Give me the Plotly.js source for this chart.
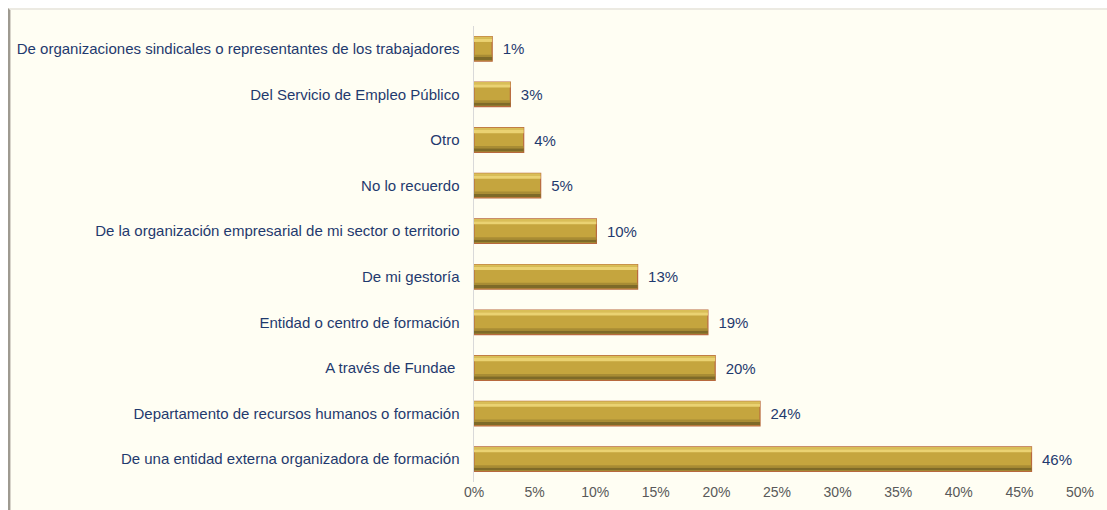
<!DOCTYPE html>
<html><head><meta charset="utf-8">
<script src="https://cdn.plot.ly/plotly-3.0.1.min.js"></script>
<style>
html,body{margin:0;padding:0;background:#fff;width:1107px;height:510px;overflow:hidden}
#frame{position:absolute;left:8px;top:8px;width:1097px;height:502px;background:#FFFEF3;
 border-top:2px solid #ECEAE2;border-left:2px solid #9E9A90;box-shadow:inset 1px 0 0 #D8D4CA;border-right:1px solid #F3F0E6}
#chart{position:absolute;left:0;top:0;width:1107px;height:510px}
</style></head>
<body>
<div id="frame"></div>
<div id="chart"></div>
<script>
const categories = [
  "De una entidad externa organizadora de formación",
  "Departamento de recursos humanos o formación",
  "A través de Fundae ",
  "Entidad o centro de formación",
  "De mi gestoría",
  "De la organización empresarial de mi sector o territorio",
  "No lo recuerdo",
  "Otro",
  "Del Servicio de Empleo Público",
  "De organizaciones sindicales o representantes de los trabajadores"
];
const values = [46.0, 23.6, 19.9, 19.3, 13.5, 10.1, 5.5, 4.1, 3.0, 1.5];
const labels = ["46%","24%","20%","19%","13%","10%","5%","4%","3%","1%"];
const xTickVals = [0,5,10,15,20,25,30,35,40,45,50];
const xTickText = ["0%","5%","10%","15%","20%","25%","30%","35%","40%","45%","50%"];

const W = 0.54;
const main = {
  type:'bar', orientation:'h', y:categories, x:values, width:W,
  marker:{color:'#C5A53E', line:{color:'#B8693E', width:1.2}},
  text:labels.map(t=>'\u2002'+t), textposition:'outside', cliponaxis:false,
  textfont:{family:'Liberation Sans, Arial, sans-serif', size:15, color:'#1F3A6E'},
  hoverinfo:'skip', showlegend:false
};
const hi = {
  type:'bar', orientation:'h', y:categories, x:values, width:0.07, offset:W/2-0.12,
  marker:{color:'#EAD272', line:{width:0}}, hoverinfo:'skip', showlegend:false
};
const hi2 = {
  type:'bar', orientation:'h', y:categories, x:values, width:0.05, offset:W/2-0.05,
  marker:{color:'#D9BE57', line:{width:0}}, hoverinfo:'skip', showlegend:false
};
const lo = {
  type:'bar', orientation:'h', y:categories, x:values, width:0.07, offset:-W/2+0.02,
  marker:{color:'#7E6A28', line:{width:0}}, hoverinfo:'skip', showlegend:false
};
const lo2 = {
  type:'bar', orientation:'h', y:categories, x:values, width:0.05, offset:-W/2+0.09,
  marker:{color:'#A88C34', line:{width:0}}, hoverinfo:'skip', showlegend:false
};

const layout = {
  width:1107, height:510,
  paper_bgcolor:'rgba(0,0,0,0)', plot_bgcolor:'rgba(0,0,0,0)',
  margin:{l:474, r:27, t:26, b:28},
  barmode:'overlay', showlegend:false,
  font:{family:'Liberation Sans, Arial, sans-serif', size:15, color:'#1F3A6E'},
  xaxis:{range:[0,50], tickvals:xTickVals, ticktext:xTickText, showgrid:false, zeroline:false,
    showline:false, ticks:'', tickfont:{size:14, color:'#595959'}, fixedrange:true},
  yaxis:{type:'category', categoryarray:categories, showgrid:false, zeroline:false,
    showline:true, linecolor:'#D9D9D9', linewidth:1.5, ticks:'', ticklabelstandoff:10,
    tickfont:{size:15, color:'#1F3A6E'}, fixedrange:true}
};
Plotly.newPlot('chart',[main,lo,lo2,hi,hi2],layout,{displayModeBar:false,staticPlot:true});
</script>
</body></html>
